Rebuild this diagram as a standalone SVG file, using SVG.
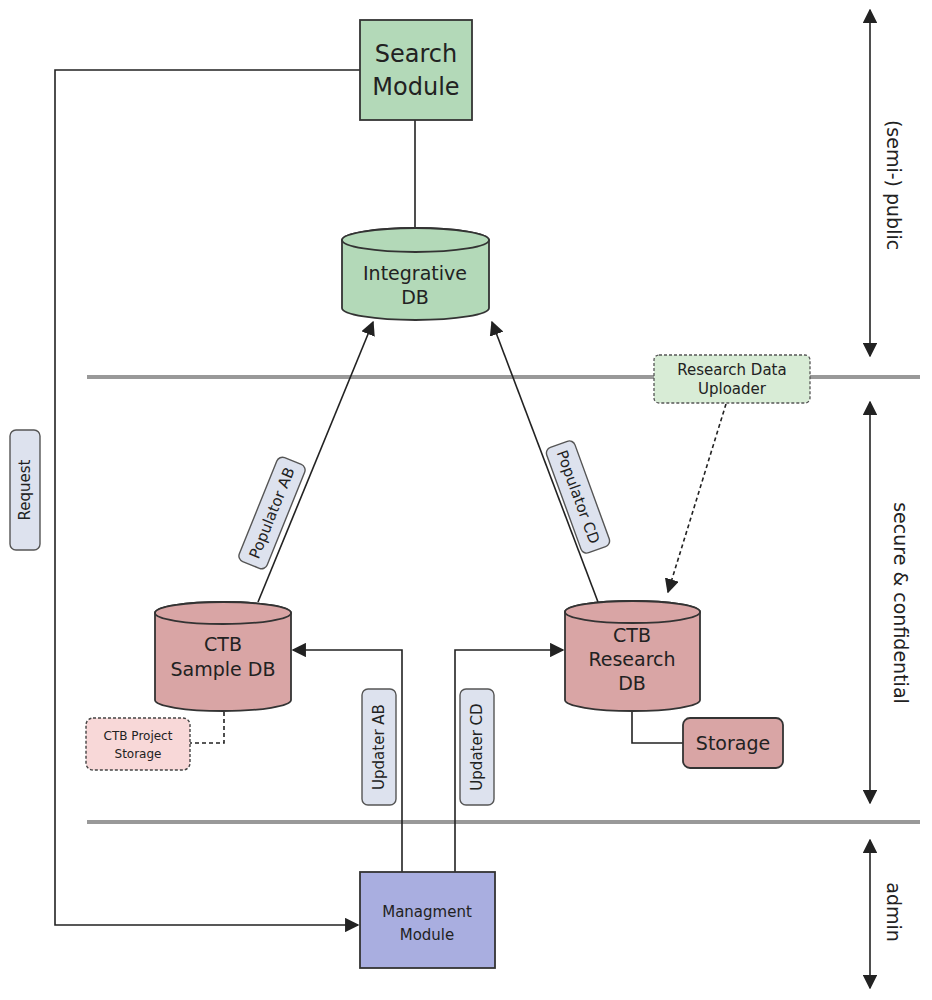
<svg xmlns="http://www.w3.org/2000/svg" width="932" height="1000" viewBox="0 0 932 1000">
<defs>
<style>
text{font-family:"DejaVu Sans","Liberation Sans",sans-serif;fill:#222;text-anchor:middle}
.ln{stroke:#222;stroke-width:1.6;fill:none}
.sep{stroke:#999;stroke-width:4;fill:none}
.green{fill:#b3d9b8;stroke:#333;stroke-width:1.8}
.pink{fill:#d9a5a5;stroke:#333;stroke-width:1.8}
.lab{fill:#dde2ee;stroke:#555;stroke-width:1.4}
.big{font-size:24px}
.mid{font-size:19px}
.sm{font-size:15px}
</style>
<marker id="a" viewBox="0 0 10 10" refX="9" refY="5" markerWidth="9" markerHeight="9" orient="auto-start-reverse"><path d="M0,0L10,5L0,10z" fill="#222"/></marker>
</defs>
<g id="separators">
<line class="sep" x1="87" y1="377" x2="920" y2="377"/>
<line class="sep" x1="87" y1="822" x2="920" y2="822"/>
</g>
<g id="connectors">
<line class="ln" x1="415" y1="120" x2="415" y2="228"/>
<line class="ln" x1="258" y1="602" x2="373" y2="322" marker-end="url(#a)"/>
<line class="ln" x1="598" y1="602" x2="492" y2="322" marker-end="url(#a)"/>
<line class="ln" x1="726" y1="404" x2="668" y2="592" stroke-dasharray="4,3" marker-end="url(#a)"/>
<polyline class="ln" points="402,872 402,650 293,650" marker-end="url(#a)"/>
<polyline class="ln" points="455,872 455,650 563,650" marker-end="url(#a)"/>
<polyline class="ln" points="360,70 55,70 55,925 358,925" marker-end="url(#a)"/>
<polyline class="ln" points="632,702 632,743 683,743"/>
<polyline class="ln" points="224,705 224,743 190,743" stroke-dasharray="4,3"/>
<line class="ln" x1="870" y1="10" x2="870" y2="356" marker-start="url(#a)" marker-end="url(#a)"/>
<line class="ln" x1="870" y1="402" x2="870" y2="803" marker-start="url(#a)" marker-end="url(#a)"/>
<line class="ln" x1="870" y1="840" x2="870" y2="988" marker-start="url(#a)" marker-end="url(#a)"/>
</g>
<g id="search">
<rect class="green" x="360" y="20" width="112" height="100"/>
<text class="big" x="416" y="62">Search</text>
<text class="big" x="416" y="95">Module</text>
</g>
<g id="integrative">
<path class="green" d="M342,240V308A73.5,12 0 0 0 489,308V240A73.5,12 0 0 0 342,240z"/>
<ellipse class="green" cx="415.5" cy="240" rx="73.5" ry="12"/>
<text class="mid" x="415" y="280">Integrative</text>
<text class="mid" x="415" y="304">DB</text>
</g>
<g id="uploader">
<rect x="654" y="355" width="156" height="48" rx="5" fill="#d8ecd6" stroke="#555" stroke-dasharray="3,2" stroke-width="1.3"/>
<text class="sm" x="732" y="375">Research Data</text>
<text class="sm" x="732" y="394">Uploader</text>
</g>
<g id="sampledb">
<path class="pink" d="M155,613V700A68,11 0 0 0 291,700V613A68,11 0 0 0 155,613z"/>
<ellipse class="pink" cx="223" cy="613" rx="68" ry="11"/>
<text class="mid" x="223" y="651">CTB</text>
<text class="mid" x="223" y="676">Sample DB</text>
</g>
<g id="researchdb">
<path class="pink" d="M565,612V700A67.5,11 0 0 0 700,700V612A67.5,11 0 0 0 565,612z"/>
<ellipse class="pink" cx="632.5" cy="612" rx="67.5" ry="11"/>
<text class="mid" x="632" y="642">CTB</text>
<text class="mid" x="632" y="666">Research</text>
<text class="mid" x="632" y="690">DB</text>
</g>
<g id="storage">
<rect class="pink" x="683" y="718" width="100" height="50" rx="7"/>
<text class="mid" x="733" y="750">Storage</text>
</g>
<g id="projectstorage">
<rect x="86" y="718" width="104" height="52" rx="7" fill="#f8d8d8" stroke="#444" stroke-dasharray="3,2" stroke-width="1.4"/>
<text x="138" y="740" font-size="12">CTB Project</text>
<text x="138" y="758" font-size="12">Storage</text>
</g>
<g id="management">
<rect x="360" y="872" width="135" height="96" fill="#a9aee0" stroke="#333" stroke-width="1.8"/>
<text class="sm" x="427" y="917">Managment</text>
<text class="sm" x="427" y="940">Module</text>
</g>
<g id="labels">
<g transform="translate(272,513) rotate(-68)"><rect class="lab" x="-56" y="-15" width="112" height="30" rx="6"/><text class="sm" y="5">Populator AB</text></g>
<g transform="translate(578,497) rotate(70)"><rect class="lab" x="-56" y="-15" width="112" height="30" rx="6"/><text class="sm" y="5">Populator CD</text></g>
<g transform="translate(379,747) rotate(-90)"><rect class="lab" x="-58" y="-17" width="116" height="34" rx="6"/><text class="sm" y="5">Updater AB</text></g>
<g transform="translate(477,747) rotate(-90)"><rect class="lab" x="-58" y="-17" width="116" height="34" rx="6"/><text class="sm" y="5">Updater CD</text></g>
<g transform="translate(25,490) rotate(-90)"><rect class="lab" x="-60" y="-15" width="120" height="30" rx="6"/><text class="sm" y="5">Request</text></g>
<text class="mid" transform="translate(893,185) rotate(90)" y="6">(semi-) public</text>
<text class="mid" transform="translate(900,603) rotate(90)" y="6">secure &amp; confidential</text>
<text class="mid" transform="translate(893,912) rotate(90)" y="6">admin</text>
</g>
</svg>
